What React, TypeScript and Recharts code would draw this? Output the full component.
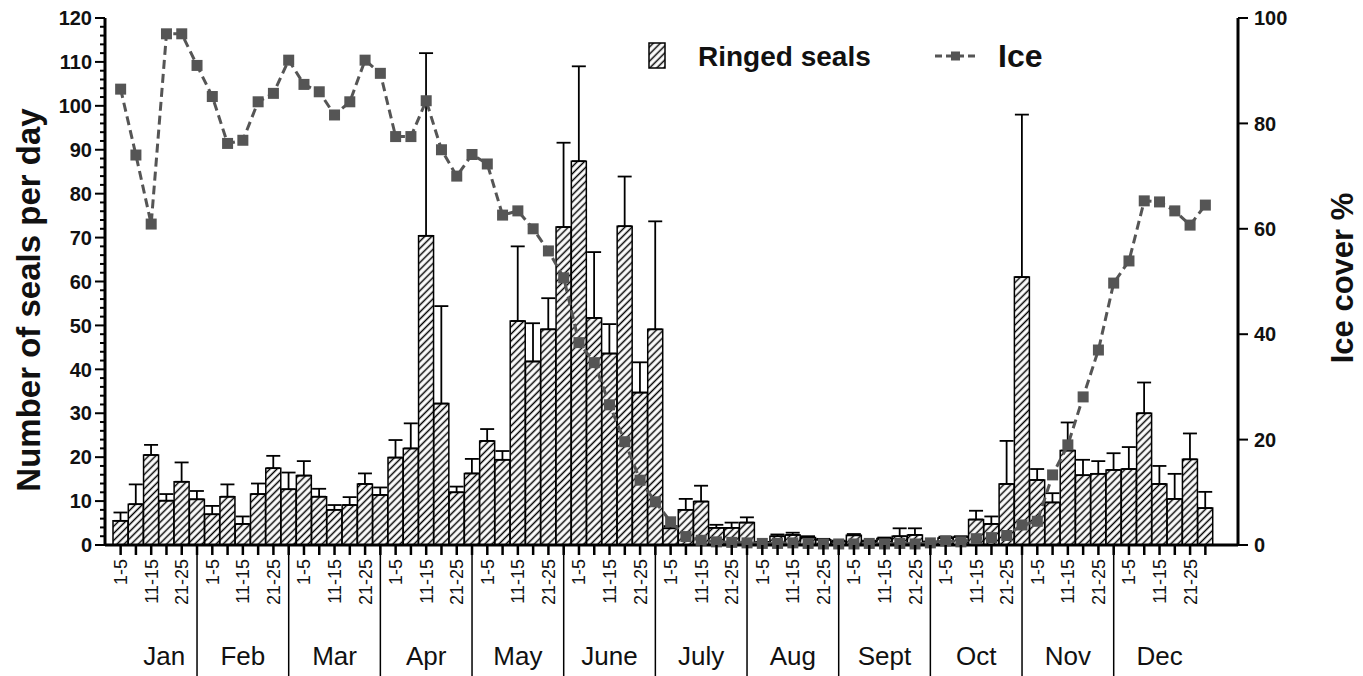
import React from "react";
import { ComposedChart, Bar, Line, XAxis, YAxis, ErrorBar } from "recharts";

const months = ["Jan", "Feb", "Mar", "Apr", "May", "June", "July", "Aug", "Sept", "Oct", "Nov", "Dec"];
const periods = ["1-5", "6-10", "11-15", "16-20", "21-25", "26-31"];

// mean number of ringed seals per day, one value per 5-day period
const seals = [
  5.5, 9.3, 20.5, 10.1, 14.4, 10.4,
  7.0, 11.0, 4.8, 11.6, 17.5, 12.7,
  15.8, 11.0, 8.0, 9.1, 13.9, 11.4,
  19.9, 22.0, 70.4, 32.2, 12.0, 16.3,
  23.7, 19.4, 51.0, 41.8, 49.1, 72.4,
  87.4, 51.7, 43.6, 72.6, 34.7, 49.1,
  3.8, 8.0, 9.9, 3.9, 3.9, 5.1,
  0.4, 2.0, 2.3, 1.7, 1.2, 0.8,
  2.2, 0.8, 1.5, 2.0, 2.3, 0.6,
  1.6, 1.8, 5.8, 4.8, 13.9, 61.0,
  14.8, 9.7, 21.5, 15.9, 16.2, 17.1,
  17.3, 30.0, 13.9, 10.5, 19.5, 8.4,
];

// upper error (SD) above each bar
const sealsErr = [
  1.9, 4.5, 2.3, 1.5, 4.4, 1.9,
  1.9, 2.8, 1.7, 2.4, 2.8, 3.8,
  3.3, 1.8, 1.1, 1.8, 2.4, 1.7,
  4.0, 5.7, 41.6, 22.2, 1.3, 3.3,
  2.7, 2.0, 17.0, 8.7, 7.1, 19.2,
  21.6, 15.0, 6.7, 11.3, 6.9, 24.6,
  0.5, 2.5, 3.6, 0.7, 1.2, 1.2,
  0.3, 0.4, 0.5, 0.3, 0.2, 0.2,
  0.3, 0.2, 0.2, 1.8, 1.5, 0.2,
  0.3, 0.2, 2.0, 1.7, 9.8, 37.0,
  2.5, 2.1, 6.4, 3.5, 2.9, 3.8,
  5.0, 7.0, 4.1, 5.7, 5.9, 3.7,
];

// ice cover %
const ice = [
  86.5, 74.0, 60.9, 97.0, 97.0, 91.0,
  85.1, 76.2, 76.8, 84.1, 85.7, 92.0,
  87.4, 86.0, 81.6, 84.1, 92.0, 89.5,
  77.5, 77.5, 84.3, 75.0, 70.0, 74.1,
  72.3, 62.6, 63.4, 60.0, 55.8, 50.7,
  38.4, 34.6, 26.6, 19.6, 12.3, 8.2,
  4.4, 1.6, 0.9, 0.6, 0.5, 0.4,
  0.3, 0.3, 0.4, 0.3, 0.2, 0.2,
  0.2, 0.3, 0.2, 0.3, 0.2, 0.4,
  0.8, 0.6, 1.2, 1.4, 1.8, 3.8,
  4.5, 13.3, 19.0, 28.1, 37.0, 49.7,
  53.9, 65.3, 65.1, 63.4, 60.7, 64.5,
];

const leftTicks = Array.from({ length: 61 }, (_, i) => i * 2);
const rightTicks = [0, 20, 40, 60, 80, 100];

const data = seals.map((v, i) => ({
  period: periods[i % 6],
  month: months[Math.floor(i / 6)],
  seals: v,
  err: [0, sealsErr[i]],
  ice: ice[i],
}));

const FONT = "Arial, 'Liberation Sans', Helvetica, sans-serif";
const ICE_COLOR = "#555555";
const W = 1363;
const H = 676;

function PeriodTick(props: any) {
  const { x, y, payload } = props;
  const i = payload.index;
  const pos = i % 6;
  const isSep = pos === 5 && i !== data.length - 1;
  // first month has no divider on its left, its label sits a bit further right
  const monthX = i === 2 ? x + 13 : x;
  return (
    <g>
      <line x1={x} y1={y} x2={x} y2={y + 10} stroke="#000" strokeWidth={2.5} />
      {isSep && <line x1={x} y1={y} x2={x} y2={H} stroke="#000" strokeWidth={1.5} />}
      {pos % 2 === 0 && (
        <text
          transform={`translate(${x},${y + 14}) rotate(-90)`}
          textAnchor="end"
          dy="0.36em"
          fontSize={18}
          fontFamily={FONT}
          fill="#111"
        >
          {payload.value}
        </text>
      )}
      {pos === 2 && (
        <text x={monthX} y={665} textAnchor="middle" fontSize={26} fontFamily={FONT} fill="#111">
          {months[Math.floor(i / 6)]}
        </text>
      )}
    </g>
  );
}

function LeftTick(props: any) {
  const { x, y, payload } = props;
  const major = payload.value % 10 === 0;
  return (
    <g>
      <line x1={x - (major ? 10 : 5)} y1={y} x2={x} y2={y} stroke="#000" strokeWidth={2} />
      {major && (
        <text x={x - 13} y={y} dy="0.36em" textAnchor="end" fontSize={20} fontWeight="bold" fontFamily={FONT} fill="#111">
          {payload.value}
        </text>
      )}
    </g>
  );
}

function RightTick(props: any) {
  const { x, y, payload } = props;
  return (
    <g>
      <line x1={x} y1={y} x2={x + 10} y2={y} stroke="#000" strokeWidth={2} />
      <text x={x + 16} y={y} dy="0.36em" textAnchor="start" fontSize={20} fontWeight="bold" fontFamily={FONT} fill="#111">
        {payload.value}
      </text>
    </g>
  );
}

function SquareDot(props: any) {
  const { cx, cy } = props;
  if (cx == null || cy == null) return null;
  return <rect x={cx - 5.5} y={cy - 5.5} width={11} height={11} fill={ICE_COLOR} />;
}

export default function App() {
  return (
    <div style={{ position: "absolute", left: 0, top: 0, width: W, height: H, background: "#fff" }}>
      <svg width={0} height={0} style={{ position: "absolute" }}>
        <defs>
          <pattern id="hatch" patternUnits="userSpaceOnUse" width={5} height={5} patternTransform="rotate(45)">
            <rect width={5} height={5} fill="#fff" />
            <line x1={2.5} y1={0} x2={2.5} y2={5} stroke="#000" strokeWidth={1.5} />
          </pattern>
        </defs>
      </svg>
      <ComposedChart
        width={W}
        height={H}
        data={data}
        margin={{ top: 18, right: 0, bottom: 0, left: 0 }}
        barCategoryGap={0}
        barGap={0}
      >
        <XAxis
          dataKey="period"
          interval={0}
          height={131}
          padding={{ left: 8, right: 25 }}
          tickSize={0}
          tickMargin={0}
          tickLine={false}
          axisLine={{ stroke: "#000", strokeWidth: 3 }}
          tick={<PeriodTick />}
        />
        <YAxis
          yAxisId="left"
          width={105}
          domain={[0, 120]}
          ticks={leftTicks}
          interval={0}
          tickSize={0}
          tickMargin={0}
          tickLine={false}
          axisLine={{ stroke: "#000", strokeWidth: 3 }}
          tick={<LeftTick />}
        />
        <YAxis
          yAxisId="right"
          orientation="right"
          width={125}
          domain={[0, 100]}
          ticks={rightTicks}
          interval={0}
          tickSize={0}
          tickMargin={0}
          tickLine={false}
          axisLine={{ stroke: "#000", strokeWidth: 3 }}
          tick={<RightTick />}
        />
        <Bar
          yAxisId="left"
          dataKey="seals"
          fill="url(#hatch)"
          stroke="#000"
          strokeWidth={1.5}
          isAnimationActive={false}
        >
          <ErrorBar dataKey="err" direction="y" width={7} stroke="#000" strokeWidth={1.8} />
        </Bar>
        <Line
          yAxisId="right"
          dataKey="ice"
          type="linear"
          stroke={ICE_COLOR}
          strokeWidth={3}
          strokeDasharray="9 5"
          dot={<SquareDot />}
          activeDot={false}
          isAnimationActive={false}
        />
      </ComposedChart>
      <svg
        width={W}
        height={H}
        style={{ position: "absolute", left: 0, top: 0, pointerEvents: "none" }}
      >
        <text
          transform="translate(28,300) rotate(-90)"
          textAnchor="middle"
          dy="0.36em"
          fontSize={33}
          fontWeight="bold"
          fontFamily={FONT}
          fill="#111"
        >
          Number of seals per day
        </text>
        <text
          transform="translate(1342,278) rotate(-90)"
          textAnchor="middle"
          dy="0.36em"
          fontSize={31}
          fontWeight="bold"
          fontFamily={FONT}
          fill="#111"
        >
          Ice cover %
        </text>
        <rect x={649} y={43} width={16} height={25} fill="url(#hatch)" stroke="#000" strokeWidth={1.5} />
        <text x={698} y={66} fontSize={28} fontWeight="bold" fontFamily={FONT} fill="#111">
          Ringed seals
        </text>
        <line x1={935} y1={56} x2={978} y2={56} stroke={ICE_COLOR} strokeWidth={3} strokeDasharray="7 4" />
        <rect x={951} y={51.5} width={9} height={9} fill={ICE_COLOR} />
        <text x={998} y={67} fontSize={32} fontWeight="bold" fontFamily={FONT} fill="#111">
          Ice
        </text>
      </svg>
    </div>
  );
}
